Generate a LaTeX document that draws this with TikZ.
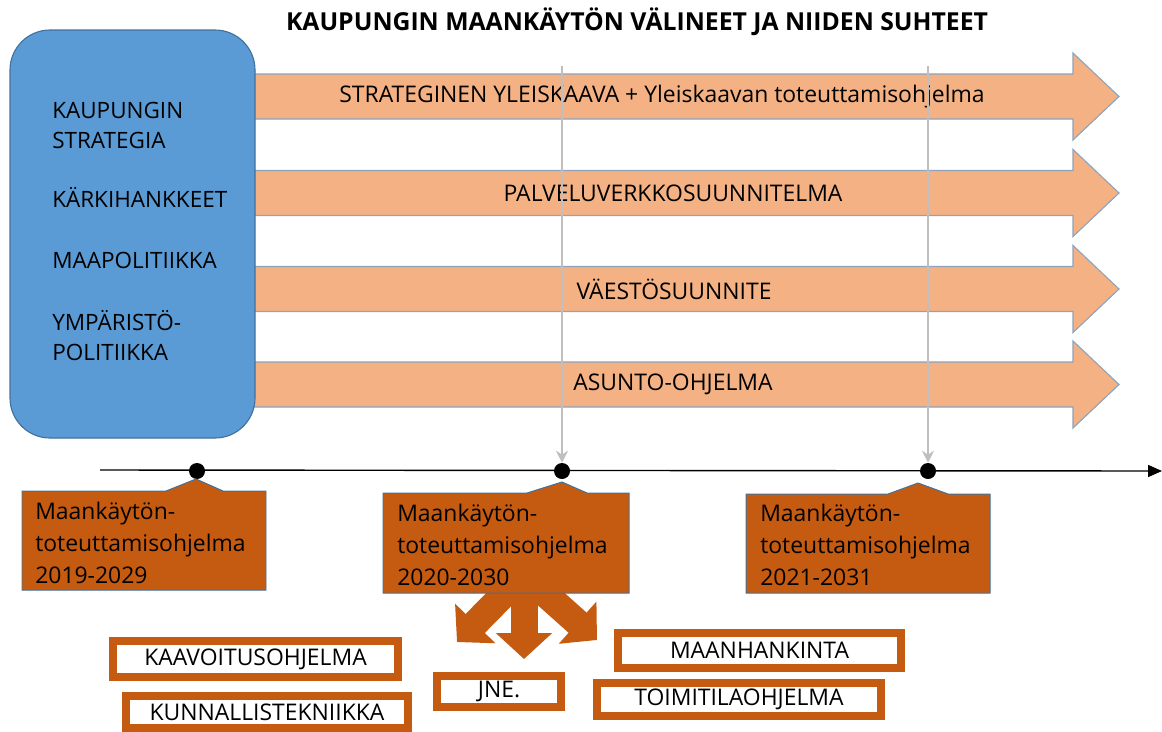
\documentclass[tikz,border=0pt]{standalone}
\usepackage{fontspec}
\setmainfont{Open Sans}
\usepackage{xcolor}
\usepackage{tikz}
\usetikzlibrary{arrows.meta}

\definecolor{citySky}{HTML}{5B9BD5}
\definecolor{cityEdge}{HTML}{41719C}
\definecolor{planPeach}{HTML}{F4B183}
\definecolor{planEdge}{HTML}{8EA3BC}
\definecolor{rustOrange}{HTML}{C55A11}
\definecolor{pinGray}{HTML}{BFBFBF}

\begin{document}
\begin{tikzpicture}[x=0.025cm, y=-0.025cm,
    planarrow/.style={fill=planPeach, draw=planEdge, line width=0.8pt},
    planlabel/.style={font=\fontsize{16.3}{19}\selectfont},
    aimlabel/.style={anchor=base west, inner sep=0pt, font=\fontsize{16}{19}\selectfont},
    callout/.style={fill=rustOrange, draw=cityEdge, line width=0.7pt},
    calloutlabel/.style={anchor=west, align=left, inner sep=0pt, font=\fontsize{16.3}{22.5}\selectfont},
    progbox/.style={draw=rustOrange, line width=5.7pt, fill=white, inner sep=0pt, font=\fontsize{16.3}{19}\selectfont},
    milestone/.style={circle, fill=black, inner sep=0pt, minimum size=0.4cm},
    spread/.style={draw=rustOrange, line width=0.675cm, -{Triangle[length=0.65cm, width=1.375cm]}}
]
\useasboundingbox (0,0) rectangle (1162,731);

% title
\node[font=\bfseries\fontsize{17.6}{20}\selectfont] (title) at (637,22) {KAUPUNGIN MAANK\"AYT\"ON V\"ALINEET JA NIIDEN SUHTEET};

% long plans as arrows
\foreach \yc/\xt/\nm/\txt in {96.5/662/yleis/{STRATEGINEN YLEISKAAVA + Yleiskaavan toteuttamisohjelma},
                              193/673/palvelu/{PALVELUVERKKOSUUNNITELMA},
                              289/674/vaesto/{V\"AEST\"OSUUNNITE},
                              384.5/673/asunto/{ASUNTO-OHJELMA}} {
    \draw[planarrow] (245,\yc-22.5) -- (1073,\yc-22.5) -- (1073,\yc-43.5) -- (1119,\yc)
        -- (1073,\yc+43.5) -- (1073,\yc+22.5) -- (245,\yc+22.5) -- cycle;
    \node[planlabel] (\nm) at (\xt,\yc) {\txt};
}

% city strategy box
\draw[fill=citySky, draw=cityEdge, line width=0.8pt, rounded corners=1cm] (10,30) rectangle (255,438);
\foreach \yb/\nm/\txt in {118.5/aim1/KAUPUNGIN, 148.5/aim2/STRATEGIA, 207.5/aim3/K\"ARKIHANKKEET,
                          268.5/aim4/MAAPOLITIIKKA, 330.5/aim5/YMP\"ARIST\"O-, 360.5/aim6/POLITIIKKA}
    \node[aimlabel] (\nm) at (52,\yb) {\txt};

% timeline
\coordinate (tstart) at (100,470);
\coordinate (tend) at (1162,471);
\draw[line width=1pt, -{Triangle[length=0.35cm, width=0.3cm]}] (tstart) -- (tend);
\node[milestone] (m1) at (197,471) {};
\node[milestone] (m2) at (562,471) {};
\node[milestone] (m3) at (928,471) {};

\coordinate (pin2) at (562,66);
\coordinate (pin3) at (928,66);
\draw[pinGray, line width=1.6pt, -{Stealth[length=0.3cm, width=0.3cm]}] (pin2) -- (m2);
\draw[pinGray, line width=1.6pt, -{Stealth[length=0.3cm, width=0.3cm]}] (pin3) -- (m3);

% spreading arrows under the middle programme
\draw[spread] (516,582) -- (457,642);
\draw[spread] (524,585) -- (524,659);
\draw[spread] (532,582) -- (597,640);

% programme callouts
\draw[callout] (22,491) -- (166,491) -- (196,479) -- (223,491) -- (266,491) -- (266,590) -- (22,590) -- cycle;
\node[calloutlabel] (prog1) at (35,543) {Maank\"ayt\"on-\\toteuttamisohjelma\\2019-2029};
\draw[callout] (383,493) -- (527,493) -- (562,482) -- (587,493) -- (629,493) -- (629,593) -- (383,593) -- cycle;
\node[calloutlabel] (prog2) at (397,545) {Maank\"ayt\"on-\\toteuttamisohjelma\\2020-2030};
\draw[callout] (746,494) -- (888,494) -- (918,483) -- (948,494) -- (990,494) -- (990,593) -- (746,593) -- cycle;
\node[calloutlabel] (prog3) at (760,545) {Maank\"ayt\"on-\\toteuttamisohjelma\\2021-2031};

% sub programmes
\node[progbox, minimum width=7.125cm, minimum height=0.9cm] (kaava) at (255.5,659) {KAAVOITUSOHJELMA};
\node[progbox, minimum width=7.05cm, minimum height=0.8cm] (kunnal) at (267,712) {KUNNALLISTEKNIIKKA};
\node[progbox, minimum width=3.1cm, minimum height=0.78cm] (jne) at (499,691.5) {JNE.};
\node[progbox, minimum width=7.075cm, minimum height=0.875cm] (maan) at (759.5,650.5) {MAANHANKINTA};
\node[progbox, minimum width=7.1cm, minimum height=0.825cm] (toimi) at (739,699.5) {TOIMITILAOHJELMA};
\end{tikzpicture}
\end{document}
